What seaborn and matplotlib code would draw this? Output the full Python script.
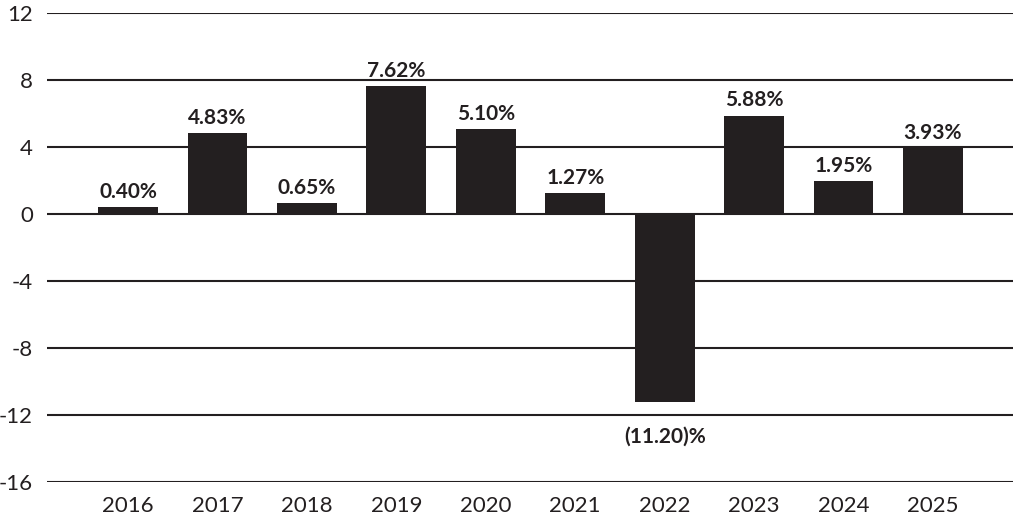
import matplotlib.pyplot as plt
import numpy as np
import pandas as pd
import seaborn as sns

years = ['2016', '2017', '2018', '2019', '2020', '2021', '2022', '2023', '2024', '2025']
returns = [0.40, 4.83, 0.65, 7.62, 5.10, 1.27, -11.20, 5.88, 1.95, 3.93]
y_ticks = [-16, -12, -8, -4, 0, 4, 8, 12]

def fmt_label(v):
    if v < 0:
        return '(%.2f)%%' % abs(v)
    return '%.2f%%' % v

sns.set_style('white')
plt.rcParams['font.family'] = ['Lato', 'DejaVu Sans']

df = pd.DataFrame({'Year': years, 'Return': returns})

fig = plt.figure(figsize=(10.13, 5.22), dpi=100)
ax = fig.add_axes([47 / 1013, 1 - 482 / 522, 1 - 47 / 1013, (482 - 13) / 522])

for t in y_ticks:
    ax.axhline(t, color='#231f20', linewidth=1.5, zorder=0)

sns.barplot(x='Year', y='Return', data=df, order=years, color='#231f20',
            saturation=1, width=0.67, linewidth=0, edgecolor='none', ax=ax, zorder=2)

for i, v in enumerate(returns):
    if v >= 0:
        ax.text(i, v + 0.3, fmt_label(v), ha='center', va='bottom',
                fontsize=15, fontweight='bold', color='#231f20')
    else:
        ax.text(i, v - 1.5, fmt_label(v), ha='center', va='top',
                fontsize=15, fontweight='bold', color='#231f20')

ax.set_ylim(-16, 12)
ax.set_xlim(-0.906, 9.895)
ax.set_yticks(y_ticks)
ax.set_yticklabels([str(t) for t in y_ticks])
ax.tick_params(axis='both', length=0, labelsize=16, colors='#231f20')
ax.tick_params(axis='y', pad=10)
ax.tick_params(axis='x', pad=10)
ax.set_xlabel('')
ax.set_ylabel('')
for s in ax.spines.values():
    s.set_visible(False)

plt.savefig('out.png', dpi=100)
